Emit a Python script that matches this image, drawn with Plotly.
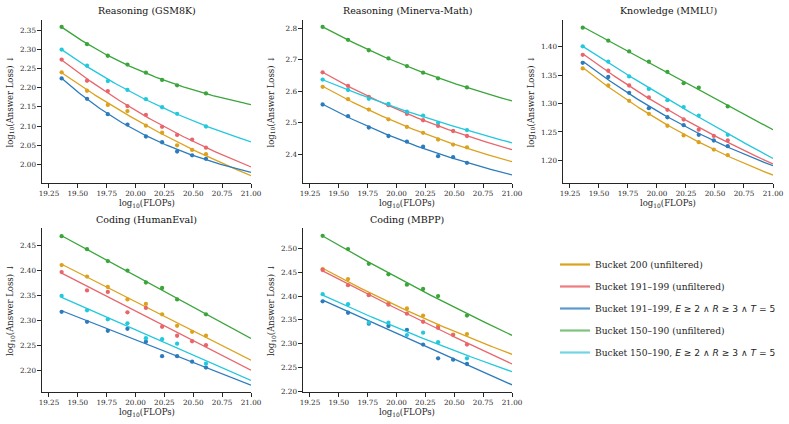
import numpy as np
import plotly.graph_objects as go

# ---------------- data ----------------
flops = [19.36, 19.58, 19.76, 19.93, 20.09, 20.23, 20.36, 20.49, 20.61]
x_end = 21.0

series_names = [
    "Bucket 200 (unfiltered)",
    "Bucket 191–199 (unfiltered)",
    "Bucket 191–199, E≥2 ∧ R≥3 ∧ T=5",
    "Bucket 150–190 (unfiltered)",
    "Bucket 150–190, E≥2 ∧ R≥3 ∧ T=5",
]
legend_labels = [
    "Bucket 200 (unfiltered)",
    "Bucket 191–199 (unfiltered)",
    "Bucket 191–199, <span style=\"font-family:'DejaVu Sans'\"><i>E</i> ≥ 2 ∧ <i>R</i> ≥ 3 ∧ <i>T</i> = 5</span>",
    "Bucket 150–190 (unfiltered)",
    "Bucket 150–190, <span style=\"font-family:'DejaVu Sans'\"><i>E</i> ≥ 2 ∧ <i>R</i> ≥ 3 ∧ <i>T</i> = 5</span>",
]
colors = ["#dca21d", "#e8666b", "#2c7bbd", "#3aa53a", "#22c8dc"]
legend_colors = ["#dca21d", "#ee7b7e", "#5a9ad0", "#7cc47c", "#6fd6e4"]

titles = ["Reasoning (GSM8K)", "Reasoning (Minerva-Math)", "Knowledge (MMLU)",
          "Coding (HumanEval)", "Coding (MBPP)"]
x_title = "log<sub>10</sub>(FLOPs)"
y_title = "log<sub>10</sub>(Answer Loss) ↓"

N = None
# values per benchmark, order: [Bucket200, 191-199, 191-199 filt, 150-190, 150-190 filt]
gsm8k = [
    [2.240, 2.192, 2.155, 2.139, 2.101, 2.083, 2.050, 2.038, 2.027],
    [2.273, 2.218, 2.191, 2.152, 2.129, 2.098, 2.077, 2.065, 2.044],
    [2.224, 2.171, 2.131, 2.104, 2.073, 2.058, 2.034, 2.024, 2.015],
    [2.358, 2.313, 2.283, 2.260, 2.239, 2.220, 2.206, N, 2.185],
    [2.299, 2.257, 2.217, 2.194, 2.170, 2.149, 2.132, N, 2.099],
]
minerva = [
    [2.614, 2.575, 2.542, 2.511, 2.487, 2.468, 2.447, 2.431, 2.422],
    [2.660, 2.617, 2.582, 2.556, 2.528, 2.508, 2.490, 2.474, 2.458],
    [2.558, 2.521, 2.485, 2.458, 2.440, 2.424, 2.394, 2.391, 2.373],
    [2.804, 2.763, 2.730, 2.704, 2.680, 2.659, 2.641, N, 2.612],
    [2.637, 2.604, 2.576, 2.560, 2.535, 2.523, 2.500, N, 2.477],
]
mmlu = [
    [1.362, 1.332, 1.305, 1.282, 1.261, 1.244, 1.232, 1.219, 1.209],
    [1.386, 1.358, 1.332, 1.311, 1.289, 1.272, 1.254, 1.243, 1.235],
    [1.372, 1.347, 1.319, 1.292, 1.276, 1.262, 1.245, 1.235, 1.225],
    [1.434, 1.411, 1.392, 1.374, 1.356, 1.336, 1.328, N, 1.295],
    [1.401, 1.374, 1.348, 1.326, 1.306, 1.294, 1.279, N, 1.245],
]
humaneval = [
    [2.411, 2.388, 2.367, 2.342, 2.333, 2.312, 2.289, 2.277, 2.269],
    [2.397, 2.360, 2.357, 2.316, 2.325, 2.287, 2.269, 2.258, 2.250],
    [2.317, 2.297, 2.279, 2.283, 2.257, 2.228, 2.228, 2.217, 2.205],
    [2.469, 2.443, 2.419, 2.400, 2.376, 2.365, 2.342, N, 2.312],
    [2.349, 2.320, 2.302, 2.294, 2.264, 2.262, 2.253, N, 2.213],
]
mbpp = [
    [2.457, 2.436, 2.403, 2.385, 2.374, 2.359, 2.337, 2.319, 2.320],
    [2.455, 2.423, 2.402, 2.382, 2.363, 2.346, 2.333, 2.318, 2.298],
    [2.389, 2.365, 2.342, 2.337, 2.329, 2.298, 2.269, 2.266, 2.257],
    [2.527, 2.499, 2.468, 2.446, 2.424, 2.415, 2.400, N, 2.359],
    [2.404, 2.383, 2.344, 2.344, 2.318, 2.323, 2.303, N, 2.269],
]
benchmarks = [gsm8k, minerva, mmlu, humaneval, mbpp]

y_ranges = [[1.952, 2.376], [2.309, 2.826], [1.160, 1.4475], [2.156, 2.4855], [2.198, 2.5435]]
y_ticks = [
    [2.00, 2.05, 2.10, 2.15, 2.20, 2.25, 2.30, 2.35],
    [2.4, 2.5, 2.6, 2.7, 2.8],
    [1.20, 1.25, 1.30, 1.35, 1.40],
    [2.20, 2.25, 2.30, 2.35, 2.40, 2.45],
    [2.20, 2.25, 2.30, 2.35, 2.40, 2.45, 2.50],
]
x_ticks = [19.25, 19.50, 19.75, 20.00, 20.25, 20.50, 20.75, 21.00]
x_range = [19.19, 21.0]


def fit_line(xv, yv, xs):
    """Least-squares fit of y = E + A*exp(-k*(x-x0)) with a grid over k."""
    xv = np.asarray(xv, float)
    yv = np.asarray(yv, float)
    x0 = xv.min()
    best = None
    for k in np.linspace(0.0, 4.0, 801):
        b = (xv - x0) if k == 0 else np.exp(-k * (xv - x0))
        M = np.vstack([np.ones_like(xv), b]).T
        coef, *_ = np.linalg.lstsq(M, yv, rcond=None)
        sse = float(np.sum((M @ coef - yv) ** 2))
        if best is None or sse < best[0]:
            best = (sse, k, coef)
    _, k, coef = best
    bs = (xs - x0) if k == 0 else np.exp(-k * (xs - x0))
    return coef[0] + coef[1] * bs


# ---------------- layout geometry ----------------
W, H = 789, 424
px_x = [(42, 251), (303, 512), (563, 773), (42, 251), (303, 512)]
px_y = [(20, 183), (20, 183), (20, 183), (228, 392), (228, 392)]

font_family = "'DejaVu Serif', 'Liberation Serif', serif"
axis_color = "#262626"

fig = go.Figure()

for p, data in enumerate(benchmarks):
    ax = "" if p == 0 else str(p + 1)
    for s, vals in enumerate(data):
        xv = [x for x, v in zip(flops, vals) if v is not None]
        yv = [v for v in vals if v is not None]
        xs = np.linspace(min(xv), x_end, 120)
        ys = fit_line(xv, yv, xs)
        fig.add_trace(go.Scatter(x=xs, y=ys, mode="lines",
                                 line=dict(color=colors[s], width=1.3),
                                 showlegend=False, hoverinfo="skip",
                                 xaxis="x" + ax, yaxis="y" + ax))
        fig.add_trace(go.Scatter(x=xv, y=yv, mode="markers",
                                 marker=dict(color=colors[s], size=4.3),
                                 showlegend=False, name=series_names[s],
                                 xaxis="x" + ax, yaxis="y" + ax))

# legend entries
for s in range(5):
    fig.add_trace(go.Scatter(x=[None], y=[None], mode="lines",
                             line=dict(color=legend_colors[s], width=2.2),
                             name=legend_labels[s], legendgroup=str(s),
                             showlegend=True, xaxis="x", yaxis="y"))

layout = dict(
    width=W, height=H, margin=dict(l=0, r=0, t=0, b=0),
    paper_bgcolor="white", plot_bgcolor="white",
    font=dict(family=font_family, size=8, color=axis_color),
    showlegend=True,
    legend=dict(x=555 / W, y=1 - 250 / H, xanchor="left", yanchor="top",
                font=dict(family=font_family, size=9.1, color=axis_color),
                tracegroupgap=3, itemwidth=30, bgcolor="rgba(0,0,0,0)"),
)
annotations = []
for p in range(5):
    ax = "" if p == 0 else str(p + 1)
    x0, x1 = px_x[p]
    y0, y1 = px_y[p]
    layout["xaxis" + ax] = dict(
        domain=[x0 / W, x1 / W], range=x_range, tickvals=x_ticks,
        ticktext=[f"{t:.2f}" for t in x_ticks], tickangle=0, automargin=False,
        showline=True, linecolor=axis_color, linewidth=1.1,
        ticks="outside", ticklen=3.5, tickwidth=0.9, tickcolor=axis_color,
        showgrid=False, zeroline=False,
        tickfont=dict(family=font_family, size=7.2, color=axis_color),
        anchor="y" + ax,
    )
    layout["yaxis" + ax] = dict(
        domain=[1 - y1 / H, 1 - y0 / H], range=y_ranges[p], tickvals=y_ticks[p],
        ticktext=[(f"{t:.1f}" if p == 1 else f"{t:.2f}") for t in y_ticks[p]],
        automargin=False,
        showline=True, linecolor=axis_color, linewidth=1.1,
        ticks="outside", ticklen=3.5, tickwidth=0.9, tickcolor=axis_color,
        showgrid=False, zeroline=False,
        tickfont=dict(family=font_family, size=7.2, color=axis_color),
        anchor="x" + ax,
    )
    # panel title
    annotations.append(dict(
        text=titles[p], x=(x0 + x1) / 2 / W, y=1 - (y0 - 9) / H,
        xref="paper", yref="paper", xanchor="center", yanchor="middle",
        showarrow=False, font=dict(family=font_family, size=9.5, color="#111111")))
    # x axis title
    annotations.append(dict(
        text=x_title, x=(x0 + x1) / 2 / W, y=1 - (y1 + 20) / H,
        xref="paper", yref="paper", xanchor="center", yanchor="middle",
        showarrow=False, font=dict(family=font_family, size=8.5, color=axis_color)))
    # y axis title
    annotations.append(dict(
        text=y_title, x=(x0 - 32) / W, y=1 - (y0 + y1) / 2 / H, textangle=-90,
        xref="paper", yref="paper", xanchor="center", yanchor="middle",
        showarrow=False, font=dict(family=font_family, size=8.5, color=axis_color)))
layout["annotations"] = annotations
fig.update_layout(**layout)

fig.write_html("out.html")
